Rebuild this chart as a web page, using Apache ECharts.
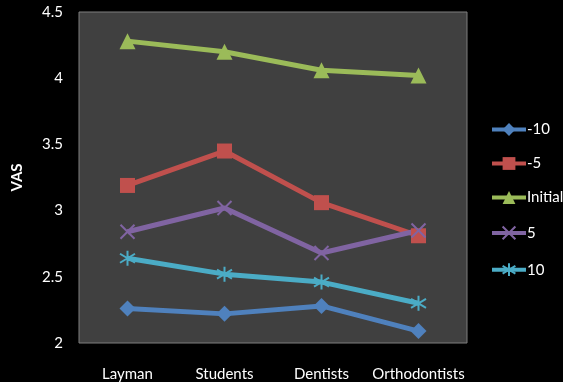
<!DOCTYPE html>
<html>
<head>
<meta charset="utf-8">
<script src="https://cdn.jsdelivr.net/npm/echarts@6/dist/echarts.min.js"></script>
<style>
  html, body { margin: 0; padding: 0; background: #000; }
  #chart { width: 563px; height: 382px; }
</style>
</head>
<body>
<div id="chart"></div>
<script>
// data
var categories = ["Layman", "Students", "Dentists", "Orthodontists"];
var minus10 = [2.26, 2.22, 2.28, 2.09];
var minus5 = [3.19, 3.45, 3.06, 2.81];
var initial = [4.28, 4.2, 4.06, 4.02];
var plus5 = [2.84, 3.02, 2.68, 2.85];
var plus10 = [2.64, 2.52, 2.46, 2.3];

var xPath = "path://M0,0L10,10M10,0L0,10";
var starPath = "path://M5,0L5,10M0,2L10,8M0,8L10,2";

var myChart = echarts.init(document.getElementById("chart"));

function lineSeries(name, data, color, symbol, size, stroked) {
  var s = {
    name: name,
    type: "line",
    data: data,
    symbol: symbol,
    symbolSize: size,
    lineStyle: { color: color, width: 5 },
    itemStyle: { color: color }
  };
  if (stroked) {
    s.itemStyle = { color: "none", borderColor: color, borderWidth: 2 };
  }
  return s;
}

var option = {
  backgroundColor: "#000",
  textStyle: { fontFamily: "Lato" },
  grid: { left: 79, top: 12, right: 96, bottom: 39 },
  legend: {
    orient: "vertical",
    left: 485,
    top: 117,
    itemWidth: 34,
    itemHeight: 16,
    itemGap: 19,
    lineStyle: { width: 4 },
    textStyle: { color: "#fff", fontSize: 15, padding: [0, 0, 0, -4] },
    data: ["-10", "-5", "Initial", "5", "10"]
  },
  xAxis: {
    type: "category",
    data: categories,
    axisLine: { show: false },
    axisTick: { show: false },
    axisLabel: { color: "#fff", fontSize: 15, margin: 24, interval: 0 }
  },
  yAxis: {
    type: "value",
    name: "VAS",
    nameLocation: "middle",
    nameGap: 54,
    nameTextStyle: { color: "#fff", fontSize: 15, fontWeight: "bold" },
    min: 2,
    max: 4.5,
    interval: 0.5,
    axisLine: { show: false },
    axisTick: { show: false },
    splitLine: { show: false },
    axisLabel: { color: "#fff", fontSize: 15, margin: 16 }
  },
  graphic: [{
    type: "rect",
    z: -1,
    shape: { x: 79, y: 12, width: 388, height: 331 },
    style: { fill: "#404040", stroke: "#7f7f7f", lineWidth: 1 },
    silent: true
  }],
  series: [
    lineSeries("-10", minus10, "#4f81bd", "diamond", 16, false),
    lineSeries("-5", minus5, "#c0504d", "rect", 15, false),
    lineSeries("Initial", initial, "#9bbb59", "triangle", 16, false),
    lineSeries("5", plus5, "#8064a2", xPath, 14, true),
    lineSeries("10", plus10, "#4bacc6", starPath, 15, true)
  ]
};

myChart.setOption(option);
</script>
</body>
</html>
